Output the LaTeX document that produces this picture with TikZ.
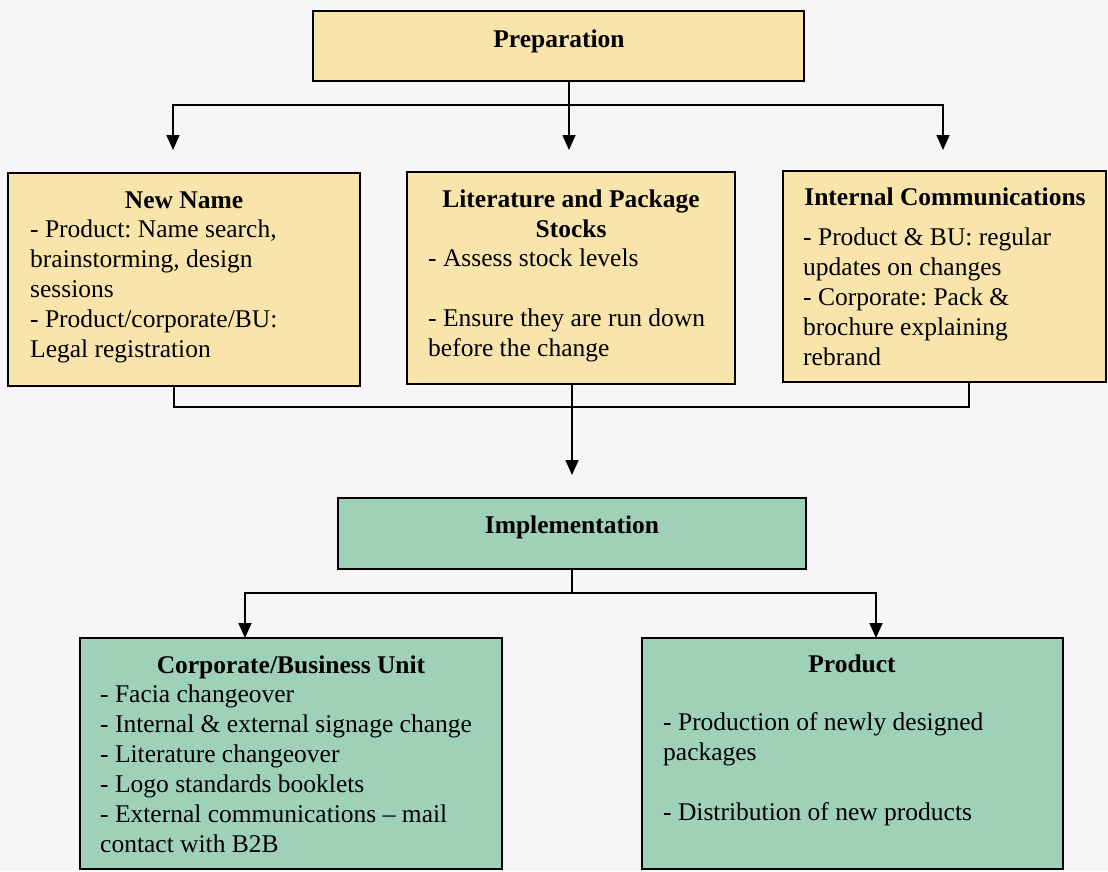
\documentclass[tikz,border=0pt]{standalone}
\usepackage{fontspec}
\setmainfont{Liberation Serif}
\usetikzlibrary{arrows.meta}
\definecolor{prepfill}{RGB}{249,229,172}
\definecolor{implfill}{RGB}{158,209,184}
\definecolor{paper}{RGB}{248,245,248}
\newcommand{\topstrut}{\rule{0pt}{20pt}}
\frenchspacing
\begin{document}
\begin{tikzpicture}[x=1pt,y=-1pt,
  box/.style={draw=black, line width=1.6pt, anchor=north west, inner sep=0pt, outer sep=0pt},
  prepbox/.style={box, fill=prepfill},
  implbox/.style={box, fill=implfill},
  txt/.style={font=\fontsize{25.5}{30}\selectfont, inner sep=0pt, align=left},
  ttl/.style={txt, font=\fontsize{25.5}{30}\selectfont\bfseries, align=center},
  link/.style={draw=black, line width=1.6pt},
  arrowlink/.style={link, -{Triangle[width=13pt,length=15pt]}}]

\useasboundingbox (0,0) rectangle (1108,871);
\fill[paper] (0,0) rectangle (1108,871);

% Preparation stage
\node[prepbox, minimum width=491pt, minimum height=70pt] (prep) at (313,11) {};
\node[ttl, anchor=base] (preptitle) at (559,47) {Preparation};

\node[prepbox, minimum width=352pt, minimum height=213pt] (newname) at (8,173) {};
\node[ttl, anchor=base] (newnametitle) at (184,208) {New Name};
\node[txt, anchor=north west] (newnamebody) at (30,217)
  {\topstrut- Product: Name search,\\brainstorming, design\\sessions\\- Product/corporate/BU:\\Legal registration};

\node[prepbox, minimum width=328pt, minimum height=212pt] (litstock) at (407,172) {};
\node[ttl, anchor=north] (litstocktitle) at (571,187) {\topstrut Literature and Package\\Stocks};
\node[txt, anchor=north west] (litstockbody) at (428,246)
  {\topstrut- Assess stock levels\\[30pt]- Ensure they are run down\\before the change};

\node[prepbox, minimum width=323pt, minimum height=211pt] (intcomm) at (783,171) {};
\node[ttl, anchor=base] (intcommtitle) at (945,205) {Internal Communications};
\node[txt, anchor=north west] (intcommbody) at (803,225)
  {\topstrut- Product \& BU: regular\\updates on changes\\- Corporate: Pack \&\\brochure explaining\\rebrand};

% Implementation stage
\node[implbox, minimum width=468pt, minimum height=71pt] (impl) at (338,498) {};
\node[ttl, anchor=base] (impltitle) at (572,533) {Implementation};

\node[implbox, minimum width=422pt, minimum height=231pt] (corp) at (80,638) {};
\node[ttl, anchor=base] (corptitle) at (291,673) {Corporate/Business Unit};
\node[txt, anchor=north west] (corpbody) at (100,682)
  {\topstrut- Facia changeover\\- Internal \& external signage change\\- Literature changeover\\- Logo standards booklets\\- External communications – mail\\contact with B2B};

\node[implbox, minimum width=421pt, minimum height=231pt] (product) at (642,638) {};
\node[ttl, anchor=base] (producttitle) at (852,672) {Product};
\node[txt, anchor=north west] (productbody) at (663,710)
  {\topstrut- Production of newly designed\\packages\\[30pt]- Distribution of new products};

% Connectors: preparation fans out
\coordinate (split1) at (569,105);
\coordinate (tipA) at (173,150);
\coordinate (tipB) at (569,150);
\coordinate (tipC) at (943,150);
\draw[arrowlink] (prep.south -| tipB) -- (tipB);
\draw[arrowlink] (split1) -| (tipA);
\draw[arrowlink] (split1) -| (tipC);

% Connectors: the three tasks merge into implementation
\coordinate (mergeL) at (174,407);
\coordinate (mergeR) at (969,407);
\coordinate (tipD) at (572,475);
\draw[link] (mergeL |- newname.south) -- (mergeL) -- (mergeR) -- (mergeR |- intcomm.south);
\draw[arrowlink] (tipD |- litstock.south) -- (tipD);

% Connectors: implementation fans out
\coordinate (split2) at (572,593);
\coordinate (tipE) at (245,638);
\coordinate (tipF) at (876,638);
\draw[link] (split2 |- impl.south) -- (split2);
\draw[arrowlink] (split2) -| (tipE);
\draw[arrowlink] (split2) -| (tipF);

\end{tikzpicture}
\end{document}
